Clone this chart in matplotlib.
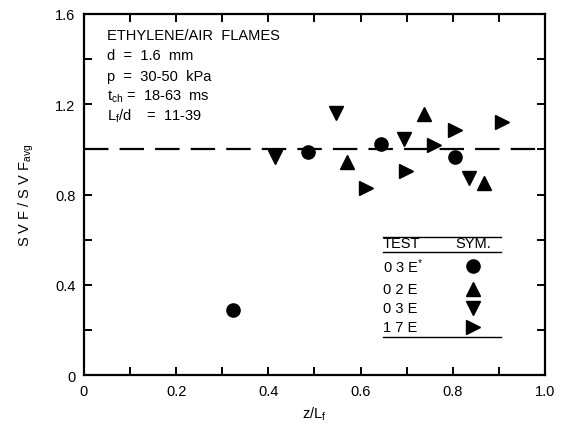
import matplotlib
matplotlib.use("Agg")
import matplotlib.pyplot as plt
import numpy as np
from matplotlib.ticker import MultipleLocator

plt.rcParams['font.family'] = ['Liberation Sans', 'DejaVu Sans']
plt.rcParams['mathtext.default'] = 'regular'

# data (z/Lf, SVF/SVFavg)
x_03e_star = [0.323, 0.485, 0.645, 0.804]
y_03e_star = [0.29, 0.99, 1.025, 0.965]

x_02e = [0.571, 0.737, 0.867]
y_02e = [0.945, 1.155, 0.85]

x_03e = [0.415, 0.546, 0.694, 0.835]
y_03e = [0.965, 1.16, 1.045, 0.875]

x_17e = [0.611, 0.698, 0.759, 0.804, 0.906]
y_17e = [0.83, 0.905, 1.02, 1.085, 1.12]

avg_level = 1.0

info_lines = ["ETHYLENE/AIR  FLAMES",
              "d  =  1.6  mm",
              "p  =  30-50  kPa",
              "t$_{ch}$ =  18-63  ms",
              "L$_{f}$/d    =  11-39"]

legend_tests = ["0 3 E$^{*}$", "0 2 E", "0 3 E", "1 7 E"]
legend_markers = ['o', '^', 'v', '>']

fig = plt.figure(figsize=(5.63, 4.27), dpi=100)
ax = fig.add_axes([0.149, 0.119, 0.819, 0.846])

ax.plot([0, 1], [avg_level, avg_level], color='black', lw=1.6,
        dashes=(11, 5))

ax.plot(x_03e_star, y_03e_star, 'o', color='black', ms=9.5, ls='none')
ax.plot(x_02e, y_02e, '^', color='black', ms=9.5, ls='none')
ax.plot(x_03e, y_03e, 'v', color='black', ms=9.5, ls='none')
ax.plot(x_17e, y_17e, '>', color='black', ms=9.5, ls='none')

ax.set_xlim(0, 1.0)
ax.set_ylim(0, 1.6)
ax.xaxis.set_minor_locator(MultipleLocator(0.1))
ax.yaxis.set_minor_locator(MultipleLocator(0.2))
ax.set_xticks([0, 0.2, 0.4, 0.6, 0.8, 1.0])
ax.set_xticklabels(['0', '0.2', '0.4', '0.6', '0.8', '1.0'])
ax.set_yticks([0, 0.4, 0.8, 1.2, 1.6])
ax.set_yticklabels(['0', '0.4', '0.8', '1.2', '1.6'])
ax.tick_params(which='both', direction='in', top=True, right=True,
               width=1.4, labelsize=10.5)
ax.tick_params(which='major', length=6, pad=6)
ax.tick_params(which='minor', length=6)
for s in ax.spines.values():
    s.set_linewidth(1.6)

ax.set_xlabel("z/L$_{f}$", fontsize=10.5, labelpad=5)
ax.set_ylabel("S V F / S V F$_{avg}$", fontsize=10.5, labelpad=14)

# info text
ty = 1.505
for line in info_lines:
    ax.text(0.05, ty, line, fontsize=10.5, va='center', ha='left')
    ty -= 0.089

# legend table
ax.plot([0.648, 0.905], [0.61, 0.61], color='black', lw=1.0)
ax.plot([0.648, 0.905], [0.545, 0.545], color='black', lw=1.0)
ax.plot([0.648, 0.905], [0.168, 0.168], color='black', lw=1.0)
ax.text(0.648, 0.555, "TEST", fontsize=10.5, va='bottom', ha='left')
ax.text(0.845, 0.555, "SYM.", fontsize=10.5, va='bottom', ha='center')
row_y = [0.483, 0.38, 0.297, 0.213]
for lab, mk, ry in zip(legend_tests, legend_markers, row_y):
    ax.text(0.648, ry, lab, fontsize=10.5, va='center', ha='left')
    ax.plot([0.843], [ry], mk, color='black', ms=9.5)

fig.savefig("out.png", dpi=100)
